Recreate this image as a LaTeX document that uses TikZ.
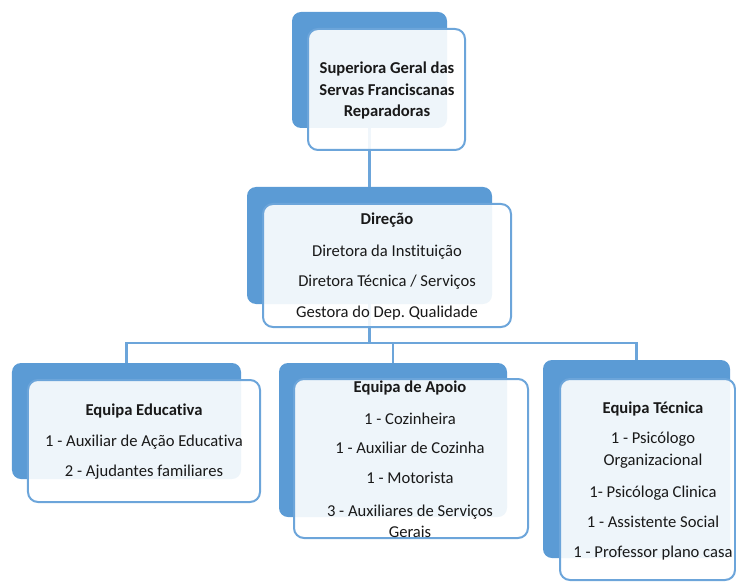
\documentclass[tikz,border=0pt]{standalone}
\usepackage{fontspec}
\setmainfont{Carlito}[Ligatures=NoCommon]
\frenchspacing
\definecolor{ob}{HTML}{5B9BD5}
\definecolor{obl}{HTML}{6CA5DA}
\begin{document}
\begin{tikzpicture}[x=1bp,y=-1bp,
  back/.style={fill=ob, rounded corners=9bp, draw=none, inner sep=0pt, outer sep=0pt},
  front/.style={draw=obl, line width=2bp, fill=white, fill opacity=0.9, rounded corners=10bp, inner sep=0pt, outer sep=0pt},
  conn/.style={draw=obl, line width=2.3bp},
  txt/.style={anchor=base, inner sep=0pt, font=\fontsize{16.6bp}{20bp}\selectfont, text=black!90},
  btxt/.style={txt, font=\fontsize{16.6bp}{20bp}\selectfont\bfseries}]
\useasboundingbox (0,0) rectangle (736,585);
% back boxes
\node[back, minimum width=155bp, minimum height=116bp] (b0) at (369.5,70) {};
\node[back, minimum width=245bp, minimum height=117bp] (b1) at (369.5,245.5) {};
\node[back, minimum width=229bp, minimum height=116bp] (b2) at (126.5,421) {};
\node[back, minimum width=228bp, minimum height=154bp] (b3) at (393,440) {};
\node[back, minimum width=187bp, minimum height=198bp] (b4) at (636.5,459) {};
% connectors
\coordinate (j) at (369.5,343);
\draw[conn] (b0.south) -- (b1.north);
\draw[conn] (b1.south) -- (j);
\draw[conn] (j) -| (b2.north);
\draw[conn] (j) -| (b3.north);
\draw[conn] (j) -| (b4.north);
% front boxes
\node[front, minimum width=157bp, minimum height=121bp] (f0) at (386.5,89.5) {};
\node[front, minimum width=248bp, minimum height=123bp] (f1) at (387,265.5) {};
\node[front, minimum width=232bp, minimum height=122bp] (f2) at (144,441) {};
\node[front, minimum width=234bp, minimum height=159bp] (f3) at (411,458.5) {};
\node[front, minimum width=175bp, minimum height=201bp] (f4) at (647.5,479.5) {};
% texts
\node[btxt] (t0a) at (387,74) {Superiora Geral das};
\node[btxt] (t0b) at (387,95.5) {Servas Franciscanas};
\node[btxt] (t0c) at (387,117) {Reparadoras};
\node[btxt] (t1a) at (387,224) {Direção};
\node[txt] (t1b) at (387,256) {Diretora da Instituição};
\node[txt] (t1c) at (387,286) {Diretora Técnica / Serviços};
\node[txt] (t1d) at (387,317) {Gestora do Dep. Qualidade};
\node[btxt] (t2a) at (144,415) {Equipa Educativa};
\node[txt] (t2b) at (144,446) {1 - Auxiliar de Ação Educativa};
\node[txt] (t2c) at (144,476) {2 - Ajudantes familiares};
\node[btxt] (t3a) at (410,392) {Equipa de Apoio};
\node[txt] (t3b) at (410,424) {1 - Cozinheira};
\node[txt] (t3c) at (410,453) {1 - Auxiliar de Cozinha};
\node[txt] (t3d) at (410,483) {1 - Motorista};
\node[txt] (t3e) at (410,516) {3 - Auxiliares de Serviços};
\node[txt] (t3f) at (410,537) {Gerais};
\node[btxt] (t4a) at (653,413) {Equipa Técnica};
\node[txt] (t4b) at (653,443) {1 - Psicólogo};
\node[txt] (t4c) at (653,465) {Organizacional};
\node[txt] (t4d) at (653,497) {1- Psicóloga Clinica};
\node[txt] (t4e) at (653,527) {1 - Assistente Social};
\node[txt] (t4f) at (653,557) {1 - Professor plano casa};
\end{tikzpicture}
\end{document}
